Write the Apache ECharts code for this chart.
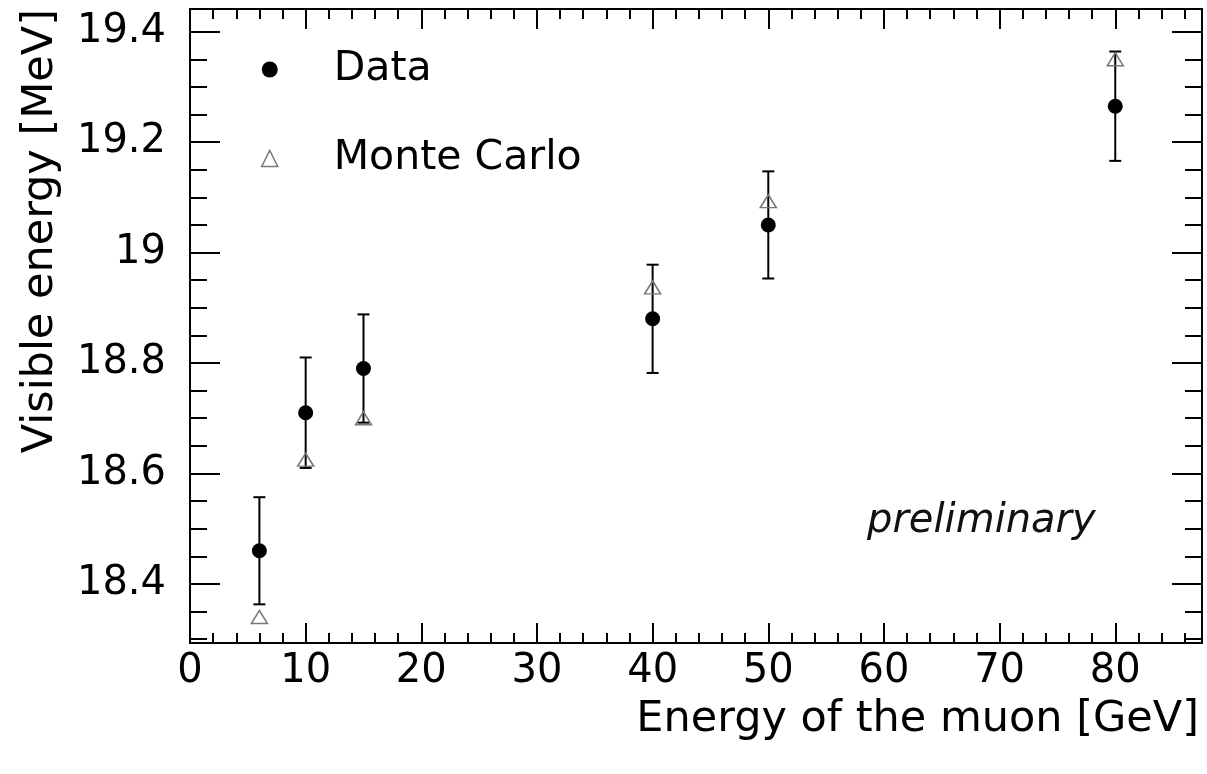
<!DOCTYPE html>
<html>
<head>
<meta charset="utf-8">
<script src="https://cdn.jsdelivr.net/npm/echarts@6/dist/echarts.min.js"></script>
<style>
  html, body { margin: 0; padding: 0; background: #fff; }
  #chart { width: 1207px; height: 774px; }
</style>
</head>
<body>
<div id="chart"></div>
<script>
// muon energy points [GeV]
var energies = [6, 10, 15, 40, 50, 80];
// measured visible energy [MeV] and its error
var dataVals = [18.46, 18.71, 18.79, 18.88, 19.05, 19.265];
var dataErr = [0.097, 0.1, 0.098, 0.098, 0.097, 0.099];
// Monte Carlo
var mcVals = [18.34, 18.625, 18.70, 18.937, 19.093, 19.35];

// ticks
var xMajor = [0, 10, 20, 30, 40, 50, 60, 70, 80];
var xMinor = [2, 4, 6, 8, 12, 14, 16, 18, 22, 24, 26, 28, 32, 34, 36, 38, 42, 44, 46, 48,
    52, 54, 56, 58, 62, 64, 66, 68, 72, 74, 76, 78, 82, 84, 86];
var yMajor = [18.4, 18.6, 18.8, 19, 19.2, 19.4];
var yMinor = [18.3, 18.35, 18.45, 18.5, 18.55, 18.65, 18.7, 18.75, 18.85, 18.9, 18.95,
    19.05, 19.1, 19.15, 19.25, 19.3, 19.35];

var FONT = 'DejaVu Sans';

var chart = echarts.init(document.getElementById('chart'));

var errData = energies.map(function (e, i) {
    return [e, dataVals[i] - dataErr[i], dataVals[i] + dataErr[i]];
});
var dataPts = energies.map(function (e, i) { return [e, dataVals[i]]; });
var mcPts = energies.map(function (e, i) { return [e, mcVals[i]]; });

function renderErr(params, api) {
    var x = api.value(0);
    var top = api.coord([x, api.value(2)]);
    var bot = api.coord([x, api.value(1)]);
    var w = 6;
    var st = {stroke: '#000', lineWidth: 2};
    return {
        type: 'group',
        children: [
            {type: 'line', shape: {x1: top[0], y1: top[1], x2: bot[0], y2: bot[1]}, style: st},
            {type: 'line', shape: {x1: top[0] - w, y1: top[1], x2: top[0] + w, y2: top[1]}, style: st},
            {type: 'line', shape: {x1: bot[0] - w, y1: bot[1], x2: bot[0] + w, y2: bot[1]}, style: st}
        ]
    };
}

function xAx(pos, ticks, len, labels) {
    var a = {
        type: 'value', position: pos, min: 0, max: 87.5,
        axisLine: {show: false, onZero: false},
        splitLine: {show: false},
        axisTick: {show: true, inside: true, length: len, customValues: ticks,
            lineStyle: {color: '#000', width: 2}},
        axisLabel: {show: false}
    };
    if (labels) {
        a.axisLabel = {show: true, customValues: labels, margin: 9, color: '#000',
            fontFamily: FONT, fontSize: 40};
        a.name = 'Energy of the muon [GeV]';
        a.nameLocation = 'end';
        a.nameGap = -3;
        a.nameMoveOverlap = false;
        a.nameTextStyle = {fontFamily: FONT, fontSize: 43, color: '#000',
            align: 'right', verticalAlign: 'top', padding: [55, 0, 0, 0]};
    }
    return a;
}

function yAx(pos, ticks, len, labels) {
    var a = {
        type: 'value', position: pos, min: 18.293, max: 19.441,
        axisLine: {show: false, onZero: false},
        splitLine: {show: false},
        axisTick: {show: true, inside: true, length: len, customValues: ticks,
            lineStyle: {color: '#000', width: 2}},
        axisLabel: {show: false}
    };
    if (labels) {
        a.axisLabel = {show: true, customValues: labels, margin: 24, color: '#000',
            fontFamily: FONT, fontSize: 40};
        a.name = 'Visible energy [MeV]';
        a.nameLocation = 'end';
        a.nameRotate = 90;
        a.nameGap = 0;
        a.nameMoveOverlap = false;
        a.nameTextStyle = {fontFamily: FONT, fontSize: 43, color: '#000',
            align: 'right', verticalAlign: 'bottom', padding: [0, 0, 128, 0]};
    }
    return a;
}

var option = {
    animation: false,
    backgroundColor: '#fff',
    grid: {
        left: 190, right: 5, top: 9, bottom: 131,
        show: true, borderColor: '#000', borderWidth: 2,
        outerBoundsMode: 'none'
    },
    xAxis: [
        xAx('bottom', xMajor, 20, xMajor),
        xAx('bottom', xMinor, 10),
        xAx('top', xMajor, 20),
        xAx('top', xMinor, 10)
    ],
    yAxis: [
        yAx('left', yMajor, 30, yMajor),
        yAx('left', yMinor, 17),
        yAx('right', yMajor, 30),
        yAx('right', yMinor, 17)
    ],
    legend: {
        orient: 'vertical',
        left: 256, top: 44,
        itemWidth: 16, itemHeight: 16,
        itemGap: 48,
        textStyle: {fontFamily: FONT, fontSize: 41, color: '#000', padding: [12, 0, 0, 51]},
        data: [
            {name: 'Data', icon: 'circle', itemStyle: {color: '#000', borderWidth: 0, opacity: 1}},
            {name: 'Monte Carlo', icon: 'triangle',
                itemStyle: {color: 'rgba(255,255,255,0)', borderColor: '#777', borderWidth: 1.5, opacity: 1}}
        ]
    },
    graphic: [{
        type: 'text', left: 867, top: 502,
        style: {text: 'preliminary', fontFamily: FONT, fontStyle: 'italic',
            fontSize: 40, fill: '#111'}
    }],
    series: [
        {
            name: 'errors', type: 'custom', renderItem: renderErr,
            data: errData, encode: {x: 0, y: [1, 2]}, z: 2, silent: true
        },
        {
            name: 'Monte Carlo', type: 'scatter', data: mcPts,
            symbol: 'triangle', symbolSize: [16, 13], z: 3,
            itemStyle: {color: 'rgba(255,255,255,0)', borderColor: '#777', borderWidth: 1.5, opacity: 1}
        },
        {
            name: 'Data', type: 'scatter', data: dataPts,
            symbol: 'circle', symbolSize: 15, z: 4,
            itemStyle: {color: '#000', opacity: 1}
        }
    ]
};

option && chart.setOption(option);
</script>
</body>
</html>
